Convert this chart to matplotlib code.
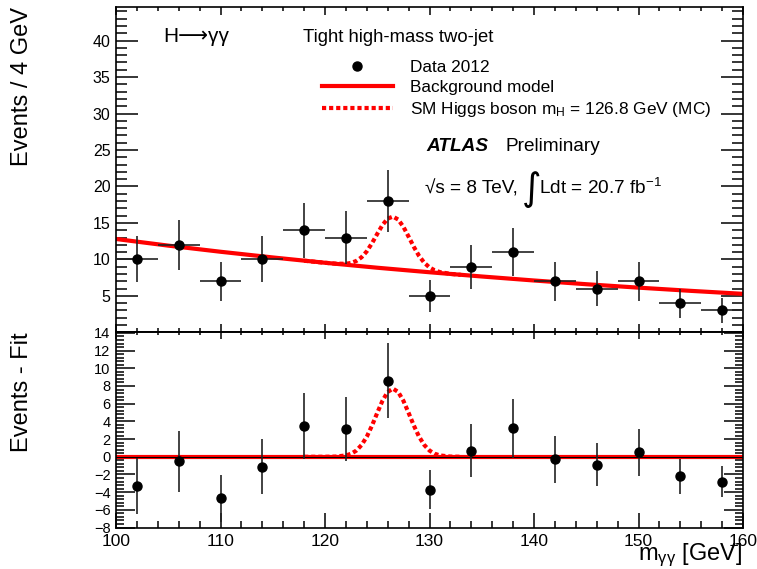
import numpy as np
import matplotlib
matplotlib.use('Agg')
import matplotlib.pyplot as plt
from matplotlib.ticker import MultipleLocator, FixedLocator
from matplotlib.lines import Line2D

plt.rcParams['font.family'] = ['Liberation Sans', 'DejaVu Sans']
plt.rcParams['mathtext.fontset'] = 'custom'
plt.rcParams['mathtext.rm'] = 'Liberation Sans'
plt.rcParams['mathtext.it'] = 'Liberation Sans:italic'
plt.rcParams['mathtext.bf'] = 'Liberation Sans:bold'

# diphoton mass, 4 GeV bins (centres)
mass = [102, 106, 110, 114, 118, 122, 126, 130, 134, 138, 142, 146, 150, 154, 158]
counts = [10, 12, 7, 10, 14, 13, 18, 5, 9, 11, 7, 6, 7, 4, 3]
resid = [-3.3, -0.5, -4.7, -1.1, 3.5, 3.1, 8.6, -3.7, 0.7, 3.2, -0.3, -0.9, 0.5, -2.2, -2.8]

# background model
bkg_x = [100, 105, 110, 115, 120, 125, 130, 135, 140, 145, 150, 155, 160]
bkg_y = [12.8, 11.89, 11.05, 10.27, 9.54, 8.86, 8.24, 7.66, 7.11, 6.60, 6.13, 5.69, 5.28]

# signal (MC) around the peak
peak_x = [118, 120, 121, 122, 122.5, 123, 123.5, 124, 124.5, 125, 125.5, 126, 126.5,
          127, 127.5, 128, 128.5, 129, 129.5, 130, 130.5, 131, 132, 133]
peak_sb = [9.82, 9.54, 9.42, 9.40, 9.52, 9.79, 10.30, 11.11, 12.23, 13.50, 14.72, 15.59, 15.87,
           15.47, 14.47, 13.12, 11.72, 10.48, 9.54, 8.90, 8.50, 8.26, 8.02, 7.88]
peak_sig = [0.0, 0.0, 0.02, 0.15, 0.34, 0.70, 1.33, 2.27, 3.53, 4.96, 6.33, 7.33, 7.70,
            7.33, 6.33, 4.96, 3.53, 2.27, 1.33, 0.70, 0.34, 0.15, 0.02, 0.0]

W_PX, H_PX = 757, 569


def fx(x):
    return x / W_PX


def fy(y):
    return 1 - y / H_PX


err = np.sqrt(counts)
red = '#ff0000'
dots = (0, (1.0, 0.7))

fig = plt.figure(figsize=(W_PX / 100, H_PX / 100), dpi=100)
left, right = fx(116), fx(743)
ax1 = fig.add_axes([left, fy(332), right - left, fy(7) - fy(332)])
ax2 = fig.add_axes([left, fy(528), right - left, fy(332) - fy(528)], sharex=ax1)

# --- top panel
ax1.plot(bkg_x, bkg_y, color=red, lw=3, zorder=2)
ax1.plot(peak_x, peak_sb, color=red, lw=3, ls=dots, zorder=2)
ax1.errorbar(mass, counts, xerr=2, yerr=err, fmt='o', color='black', ecolor='#222222',
             elinewidth=1.2, capsize=0, markersize=6.5, zorder=3)
ax1.set_xlim(100, 160)
ax1.set_ylim(0.05, 44.6)
ax1.yaxis.set_major_locator(FixedLocator([5, 10, 15, 20, 25, 30, 35, 40]))
ax1.yaxis.set_minor_locator(MultipleLocator(1))
ax1.xaxis.set_major_locator(MultipleLocator(10))
ax1.xaxis.set_minor_locator(MultipleLocator(2))
ax1.tick_params(which='both', direction='in', top=True, right=True, labelbottom=False)
ax1.tick_params(axis='y', which='major', length=16, width=1.1, labelsize=11.5, pad=4)
ax1.tick_params(axis='y', which='minor', length=8, width=1.1)
ax1.tick_params(axis='x', which='major', length=6, width=1.1)
ax1.tick_params(axis='x', which='minor', length=3, width=1.1)

handles = [Line2D([], [], marker='o', ls='none', color='black', markersize=6.5),
           Line2D([], [], color=red, lw=3),
           Line2D([], [], color=red, lw=3, ls=dots)]
labels = ['Data 2012', 'Background model',
          r'SM Higgs boson $\mathregular{m_H}$ = 126.8 GeV (MC)']
ax1.legend(handles, labels, loc='upper left', bbox_to_anchor=(fx(322), fy(60)),
           bbox_transform=fig.transFigure, frameon=False, fontsize=12.4,
           handlelength=4.1, handletextpad=1.0, labelspacing=0.28,
           borderpad=0, borderaxespad=0)

# --- bottom panel
ax2.axhline(0, color=red, lw=3, zorder=2)
ax2.plot(peak_x, peak_sig, color=red, lw=3, ls=dots, zorder=2)
ax2.axhline(0, color='black', lw=0.8, zorder=2)
ax2.errorbar(mass, resid, yerr=err, fmt='o', color='black', ecolor='#222222',
             elinewidth=1.2, capsize=0, markersize=6.5, zorder=3)
ax2.set_ylim(-8.05, 14.1)
ax2.yaxis.set_major_locator(MultipleLocator(2))
ax2.yaxis.set_minor_locator(MultipleLocator(0.4))
ax2.tick_params(which='both', direction='in', right=True, top=False)
ax2.tick_params(axis='y', which='major', length=14, width=1.1, labelsize=10.5, pad=4)
ax2.tick_params(axis='y', which='minor', length=6, width=1.1)
ax2.tick_params(axis='x', which='major', length=11, width=1.1, labelsize=12.5, pad=4)
ax2.tick_params(axis='x', which='minor', length=5, width=1.1)
sec = ax2.secondary_xaxis('top')
sec.xaxis.set_major_locator(MultipleLocator(10))
sec.xaxis.set_minor_locator(MultipleLocator(2))
sec.tick_params(which='both', direction='in', labeltop=False, width=1.1)
sec.tick_params(which='major', length=5)
sec.tick_params(which='minor', length=2.5)

for ax in (ax1, ax2, sec):
    for s in ax.spines.values():
        s.set_linewidth(1.2)

# --- texts
fig.text(fx(22), fy(7), 'Events / 4 GeV', rotation=90, ha='center', va='top', fontsize=17)
fig.text(fx(22), fy(332), 'Events - Fit', rotation=90, ha='center', va='top', fontsize=17)
fig.text(fx(742), fy(560), r'$\mathregular{m_{\gamma\gamma}}$ [GeV]', ha='right',
         va='baseline', fontsize=17)
fig.text(fx(163), fy(42), 'H\u27f6\u03b3\u03b3', fontsize=15, va='baseline')
fig.text(fx(303), fy(42), 'Tight high-mass two-jet', fontsize=13.3, va='baseline')
fig.text(fx(426), fy(151), 'ATLAS', fontsize=13.7, fontweight='bold', fontstyle='italic',
         va='baseline')
fig.text(fx(506), fy(151), 'Preliminary', fontsize=13.7, va='baseline')
fig.text(fx(425), fy(194), '\u221as = 8 TeV,', fontsize=13.7, va='baseline')
fig.text(fx(522), fy(200), '\u222b', fontsize=27, va='baseline', family='DejaVu Sans')
fig.text(fx(539), fy(194), r'Ldt = 20.7 fb$^{-1}$', fontsize=13.7, va='baseline')

fig.savefig('out.png', dpi=100)
